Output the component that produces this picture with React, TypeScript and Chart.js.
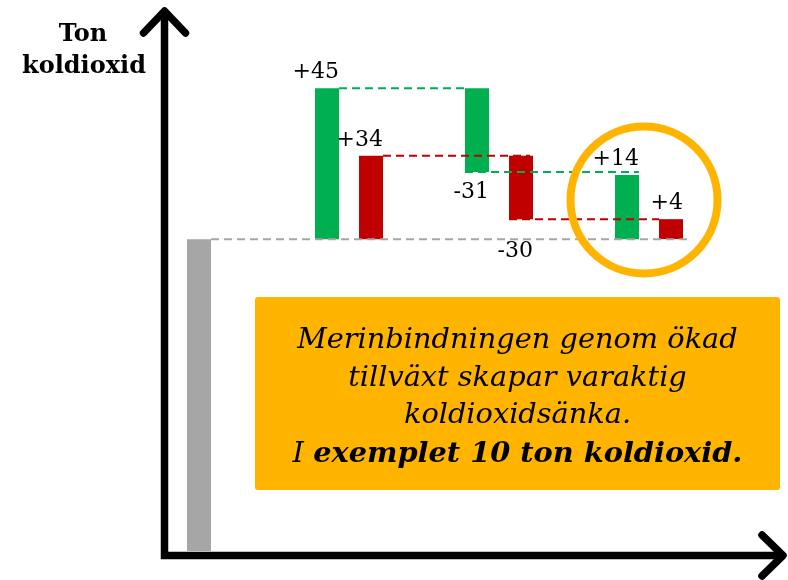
import { useEffect, useRef } from "react";
import { Chart, registerables } from "chart.js";

Chart.register(...registerables);

// ---- data ----
const categories = ["Start", "Steg 1", "Steg 2", "Steg 3"];
// floating bars [from, to] in relative units (base level = 100)
const baseValues = [[0, 100], null, null, null];
const greenValues = [null, [100, 148.4], [121.5, 148.4], [100, 120.6]];
const redValues = [null, [100, 126.7], [106.4, 126.7], [100, 106.4]];
const greenLabels = [null, "+45", "-31", "+14"];
const redLabels = [null, "+34", "-30", "+4"];
const yTitle = ["Ton", "koldioxid"];
const noteLines = ["Merinbindningen genom ökad", "tillväxt skapar varaktig", "koldioxidsänka."];
const noteLastPlain = "I ";
const noteLastBold = "exemplet 10 ton koldioxid.";

const GREEN = "#00B050";
const RED = "#C00000";
const GRAY = "#A6A6A6";
const ORANGE = "#FFB400";

const overlay = {
  id: "overlay",
  afterDatasetsDraw(chart: any) {
    const ctx = chart.ctx;
    const yS = chart.scales.y;
    const g = chart.getDatasetMeta(0).data;
    const gr = chart.getDatasetMeta(1).data;
    const rd = chart.getDatasetMeta(2).data;
    const left = (el: any) => el.x - el.width / 2;
    const right = (el: any) => el.x + el.width / 2;

    const dash = (color: string, y: number, x1: number, x2: number) => {
      ctx.save();
      ctx.strokeStyle = color;
      ctx.lineWidth = 2;
      ctx.setLineDash([8, 5]);
      ctx.beginPath();
      ctx.moveTo(x1, y);
      ctx.lineTo(x2, y);
      ctx.stroke();
      ctx.restore();
    };

    const baseY = yS.getPixelForValue((baseValues[0] as number[])[1]);
    dash(GRAY, baseY, right(g[0]), right(rd[3]) + 6);
    dash(GREEN, yS.getPixelForValue((greenValues[1] as number[])[1]), right(gr[1]), left(gr[2]));
    dash(RED, yS.getPixelForValue((redValues[1] as number[])[1]), right(rd[1]), right(rd[2]) - 3);
    dash(GREEN, yS.getPixelForValue((greenValues[2] as number[])[0]), left(gr[2]), right(gr[3]));
    dash(RED, yS.getPixelForValue((redValues[2] as number[])[0]), left(rd[2]), left(rd[3]));

    // value labels
    ctx.save();
    ctx.fillStyle = "#000";
    ctx.font = "22px 'DejaVu Serif'";
    ctx.textAlign = "right";
    ctx.textBaseline = "alphabetic";
    const drawLabels = (els: any[], labels: (string | null)[]) => {
      els.forEach((el, i) => {
        const t = labels[i];
        if (!t || !el || el.skip) return;
        const top = Math.min(el.y, el.base);
        const bottom = Math.max(el.y, el.base);
        let y;
        if (t.startsWith("-")) {
          y = baseY - bottom < 24 ? baseY + 18 : bottom + 26;
        } else {
          y = top - 10;
        }
        ctx.fillText(t, right(el), y);
      });
    };
    drawLabels(gr, greenLabels);
    drawLabels(rd, redLabels);
    ctx.restore();
  },
  afterDraw(chart: any) {
    const ctx = chart.ctx;
    ctx.save();
    // axes with arrows
    ctx.strokeStyle = "#000";
    ctx.lineWidth = 7.5;
    ctx.lineJoin = "miter";
    ctx.lineCap = "butt";
    ctx.beginPath();
    ctx.moveTo(164.5, 12);
    ctx.lineTo(164.5, 555.5);
    ctx.lineTo(782, 555.5);
    ctx.stroke();
    ctx.lineCap = "round";
    ctx.lineJoin = "round";
    ctx.beginPath();
    ctx.moveTo(143.5, 33);
    ctx.lineTo(164.5, 11);
    ctx.lineTo(185.5, 33);
    ctx.moveTo(762, 535);
    ctx.lineTo(783, 555.5);
    ctx.lineTo(762, 576);
    ctx.stroke();

    // y title
    ctx.fillStyle = "#000";
    ctx.font = "bold 24px 'DejaVu Serif'";
    ctx.textAlign = "center";
    ctx.textBaseline = "alphabetic";
    ctx.fillText(yTitle[0], 83, 41);
    ctx.fillText(yTitle[1], 84, 73);

    // highlight circle
    ctx.strokeStyle = ORANGE;
    ctx.lineWidth = 8;
    ctx.beginPath();
    ctx.arc(644, 200, 73.5, 0, Math.PI * 2);
    ctx.stroke();

    // note box
    ctx.fillStyle = ORANGE;
    ctx.beginPath();
    ctx.roundRect(255, 297, 525, 193, 3);
    ctx.fill();
    ctx.fillStyle = "#000";
    ctx.textAlign = "center";
    ctx.font = "italic 28.8px 'DejaVu Serif'";
    const cx = 517.5;
    const baselines = [348, 385.5, 423, 462];
    noteLines.forEach((t, i) => ctx.fillText(t, cx, baselines[i]));
    const plainFont = "italic 28.8px 'DejaVu Serif'";
    const boldFont = "italic bold 28.8px 'DejaVu Serif'";
    ctx.font = plainFont;
    const w1 = ctx.measureText(noteLastPlain).width;
    ctx.font = boldFont;
    const w2 = ctx.measureText(noteLastBold).width;
    const start = cx - (w1 + w2) / 2;
    ctx.textAlign = "left";
    ctx.font = plainFont;
    ctx.fillText(noteLastPlain, start, baselines[3]);
    ctx.font = boldFont;
    ctx.fillText(noteLastBold, start + w1, baselines[3]);
    ctx.restore();
  },
};

export default function App() {
  const ref = useRef<HTMLCanvasElement>(null);
  useEffect(() => {
    const chart = new Chart(ref.current!, {
      type: "bar",
      data: {
        labels: categories,
        datasets: [
          { label: "Utgångsläge", data: baseValues as any, backgroundColor: GRAY, skipNull: true } as any,
          { label: "Grön", data: greenValues as any, backgroundColor: GREEN, skipNull: true } as any,
          { label: "Röd", data: redValues as any, backgroundColor: RED, skipNull: true } as any,
        ],
      },
      options: {
        responsive: false,
        animation: false,
        devicePixelRatio: 1,
        layout: { padding: { left: 124, right: 64, top: 52, bottom: 29 } },
        datasets: {
          bar: {
            skipNull: true,
            categoryPercentage: 0.587,
            barPercentage: 1,
            maxBarThickness: 24,
            borderWidth: 0,
          },
        },
        scales: {
          x: { display: false },
          y: { display: false, min: 0, max: 160 },
        },
        plugins: { legend: { display: false }, tooltip: { enabled: false } },
      } as any,
      plugins: [overlay],
    });
    return () => chart.destroy();
  }, []);
  return (
    <div style={{ position: "fixed", left: 0, top: 0, width: 788, height: 580, background: "#fff" }}>
      <canvas ref={ref} width={788} height={580} style={{ display: "block" }} />
    </div>
  );
}
